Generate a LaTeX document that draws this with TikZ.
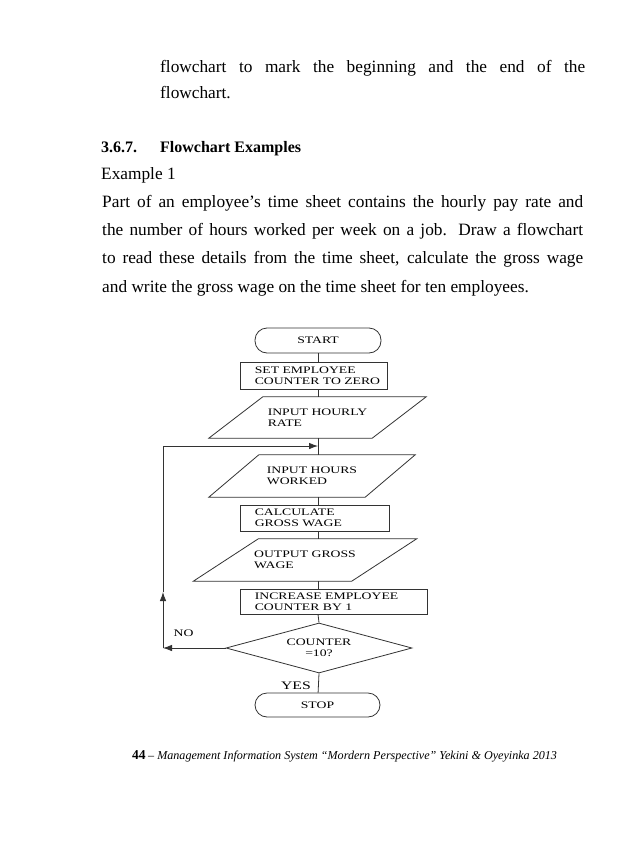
\documentclass[tikz,border=0pt]{standalone}
\usepackage{fontspec}
\setmainfont{Liberation Serif}
\newfontfamily\chartfont[FakeStretch=1.37]{Liberation Serif}
\usetikzlibrary{arrows.meta,positioning,shapes.geometric}
\tikzset{
  flowline/.style={draw=black!80,line width=0.8pt},
  term/.style={flowline,rounded corners=12pt,inner sep=0pt},
  proc/.style={flowline,inner sep=0pt},
  io/.style={inner sep=0pt,align=left},
  lbl/.style={inner sep=0pt,align=left},
  pagetext/.style={inner sep=0pt,anchor=base west,font=\fontsize{17.3}{20}\selectfont},
}
\begin{document}
\begin{tikzpicture}[x=1pt,y=-1pt,>={Latex[length=9pt,width=6.5pt]},
  font=\chartfont\fontsize{10}{10.5}\selectfont]
\useasboundingbox[fill=white] (0,0) rectangle (638,851);
\node[pagetext] (intro1) at (160,72) {\makebox[425pt][s]{flowchart to mark the beginning and the end of the}};
\node[pagetext] (intro2) at (160,99) {flowchart.};
\node[pagetext,font=\bfseries\fontsize{16}{19}\selectfont] (secnum) at (101,152) {3.6.7.};
\node[pagetext,font=\bfseries\fontsize{16}{19}\selectfont] (sectitle) at (160,152) {Flowchart Examples};
\node[pagetext] (exlabel) at (101,179) {Example 1};
\node[pagetext] (task1) at (102,207) {\makebox[481pt][s]{Part of an employee’s time sheet contains the hourly pay rate and}};
\node[pagetext] (task2) at (102,235) {\makebox[481pt][s]{the number of hours worked per week on a job. Draw a flowchart}};
\node[pagetext] (task3) at (102,263) {\makebox[481pt][s]{to read these details from the time sheet, calculate the gross wage}};
\node[pagetext] (task4) at (102,292) {and write the gross wage on the time sheet for ten employees.};

\coordinate (spine) at (318,0);
\node[term,minimum width=126pt,minimum height=25pt] (start) at (318,340.5) {START};
\node[proc,minimum width=147pt,minimum height=27pt] (setc) at (313.5,375.5) {};
\node[lbl,right=15pt of setc.west] (setc-t) {SET EMPLOYEE\\COUNTER TO ZERO};
\node[io,minimum width=163pt,minimum height=41pt] (rate) at (317.5,417.5) {INPUT HOURLY\\RATE};
\draw[flowline] ([xshift=27pt]rate.north west) -- ([xshift=27pt]rate.north east)
  -- ([xshift=-27pt]rate.south east) -- ([xshift=-27pt]rate.south west) -- cycle;
\node[io,minimum width=156pt,minimum height=42pt] (hours) at (312,476) {INPUT HOURS\\WORKED};
\draw[flowline] ([xshift=25pt]hours.north west) -- ([xshift=25pt]hours.north east)
  -- ([xshift=-25pt]hours.south east) -- ([xshift=-25pt]hours.south west) -- cycle;
\node[proc,minimum width=149pt,minimum height=26pt] (calc) at (314.5,518) {};
\node[lbl,right=15pt of calc.west] (calc-t) {CALCULATE\\GROSS WAGE};
\node[io,minimum width=158pt,minimum height=42pt] (out) at (305,560) {OUTPUT GROSS\\WAGE};
\draw[flowline] ([xshift=32.5pt]out.north west) -- ([xshift=32.5pt]out.north east)
  -- ([xshift=-32.5pt]out.south east) -- ([xshift=-32.5pt]out.south west) -- cycle;
\node[proc,minimum width=187pt,minimum height=25pt] (inc) at (333.5,601.5) {};
\node[lbl,right=15pt of inc.west] (inc-t) {INCREASE EMPLOYEE\\COUNTER BY 1};
\node[flowline,diamond,aspect=3.7,inner sep=0pt,align=center,minimum width=186pt,minimum height=50pt] (test) at (319,648) {COUNTER\\=10?};
\node[term,minimum width=125pt,minimum height=24pt] (stop) at (317.5,705) {STOP};
\node[lbl] (nolbl) at (183.5,633) {NO};
\node[lbl,anchor=east,font=\chartfont\fontsize{11.5}{12}\selectfont] (yeslbl) at (311,686) {YES};

\draw[flowline] (start) -- (spine |- setc.north);
\draw[flowline] (spine |- setc.south) -- (spine |- rate.north);
\draw[flowline] (spine |- rate.south) -- (spine |- hours.north);
\draw[flowline] (spine |- hours.south) -- (spine |- calc.north);
\draw[flowline] (spine |- calc.south) -- (spine |- out.north);
\draw[flowline] (spine |- out.south) -- (spine |- inc.north);
\draw[flowline] (spine |- inc.south) -- (test.north);
\draw[flowline] (test.south) -- (stop);

\coordinate (nocorner) at (163,648);
\coordinate (loopup) at (163,592);
\coordinate (looptop) at (163,446);
\draw[flowline,->] (test.west) -- (nocorner);
\draw[flowline,->] (nocorner) -- (loopup);
\draw[flowline,->] (loopup) -- (looptop) -- (spine |- looptop);

\node[pagetext,font=\rmfamily] (footer) at (132,759) {{\bfseries\fontsize{13.5}{16}\selectfont 44} {\fontsize{12.1}{14}\selectfont – \itshape Management Information System “Mordern Perspective” Yekini \& Oyeyinka 2013}};
\end{tikzpicture}
\end{document}
